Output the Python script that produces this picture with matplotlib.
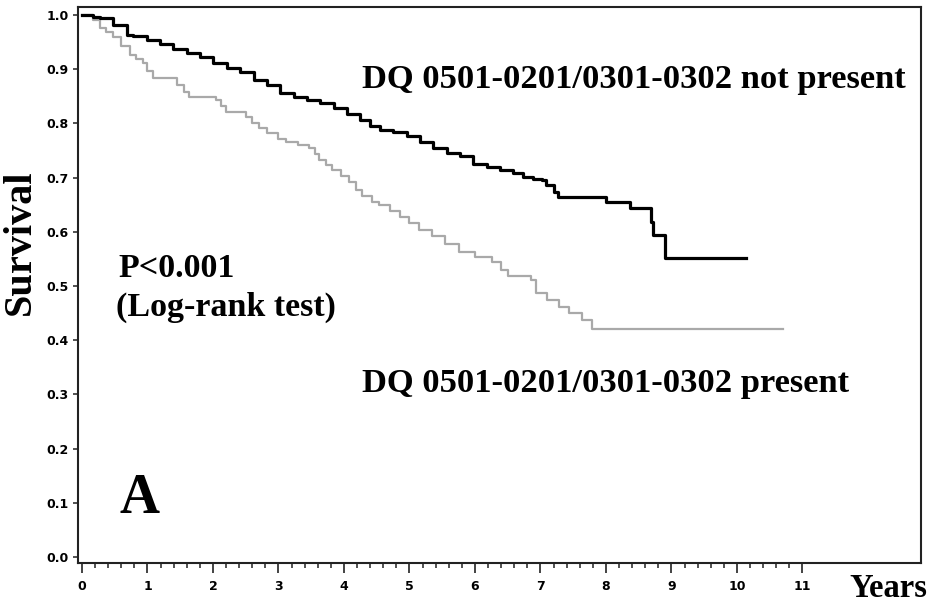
import matplotlib
matplotlib.use("Agg")
import matplotlib.pyplot as plt
from matplotlib.ticker import FixedLocator

# Kaplan-Meier step data
t_absent = [0, 0.17, 0.27, 0.48, 0.68, 0.78, 0.99, 1.19, 1.39, 1.60, 1.80, 2.00,
            2.21, 2.41, 2.62, 2.82, 3.02, 3.23, 3.43, 3.63, 3.84, 4.04, 4.24,
            4.40, 4.55, 4.75, 4.96, 5.16, 5.36, 5.57, 5.77, 5.97, 6.18, 6.38,
            6.58, 6.74, 6.89, 7.02, 7.09, 7.20, 7.27, 8.00, 8.37, 8.69, 8.72,
            8.90, 10.14]
s_absent = [1.000, 0.997, 0.994, 0.982, 0.964, 0.961, 0.954, 0.946, 0.938, 0.930,
            0.922, 0.912, 0.903, 0.894, 0.881, 0.871, 0.857, 0.849, 0.844, 0.838,
            0.828, 0.817, 0.806, 0.795, 0.788, 0.785, 0.776, 0.766, 0.754, 0.745,
            0.739, 0.726, 0.719, 0.714, 0.708, 0.701, 0.697, 0.696, 0.686, 0.674,
            0.665, 0.655, 0.644, 0.618, 0.594, 0.552, 0.552]

t_present = [0, 0.17, 0.27, 0.37, 0.47, 0.60, 0.73, 0.83, 0.93, 1.00, 1.08, 1.45,
             1.55, 1.64, 2.05, 2.12, 2.20, 2.50, 2.60, 2.70, 2.82, 3.00, 3.12,
             3.30, 3.47, 3.55, 3.62, 3.72, 3.82, 3.95, 4.08, 4.18, 4.28, 4.43,
             4.54, 4.70, 4.85, 4.99, 5.15, 5.34, 5.55, 5.75, 6.00, 6.26, 6.40,
             6.51, 6.86, 6.93, 7.10, 7.28, 7.43, 7.63, 7.78, 10.70]
s_present = [1.000, 0.990, 0.976, 0.968, 0.959, 0.943, 0.926, 0.918, 0.911, 0.897,
             0.884, 0.870, 0.858, 0.849, 0.843, 0.832, 0.821, 0.812, 0.800, 0.792,
             0.782, 0.772, 0.766, 0.760, 0.755, 0.744, 0.732, 0.723, 0.714, 0.703,
             0.692, 0.678, 0.666, 0.655, 0.650, 0.638, 0.627, 0.616, 0.604, 0.592,
             0.577, 0.562, 0.553, 0.545, 0.530, 0.518, 0.511, 0.488, 0.475, 0.462,
             0.450, 0.437, 0.420, 0.420]

x_ticks = list(range(0, 12))
y_ticks = [0.0, 0.1, 0.2, 0.3, 0.4, 0.5, 0.6, 0.7, 0.8, 0.9, 1.0]
y_labels = ["0.0", "0.1", "0.2", "0.3", "0.4", "0.5", "0.6", "0.7", "0.8", "0.9", "1.0"]

label_absent = "DQ 0501-0201/0301-0302 not present"
label_present = "DQ 0501-0201/0301-0302 present"

W, H = 933, 605
fig = plt.figure(figsize=(W / 100, H / 100), dpi=100)
ax = fig.add_axes([78 / W, 1 - 563 / H, (921 - 78) / W, (563 - 7) / H])

ax.step(t_present, s_present, where="post", color="#a9a9a9", lw=1.6)
ax.step(t_absent, s_absent, where="post", color="black", lw=2.3)

ax.set_xlim(-0.061, 12.81)
ax.set_ylim(-0.011, 1.0148)

for sp in ax.spines.values():
    sp.set_linewidth(1.5)
    sp.set_color("#222222")

ax.xaxis.set_major_locator(FixedLocator(x_ticks))
ax.xaxis.set_minor_locator(FixedLocator([i * 0.2 for i in range(0, 56) if i % 5 != 0]))
ax.set_xticklabels([str(v) for v in x_ticks])
ax.yaxis.set_major_locator(FixedLocator(y_ticks))
ax.set_yticklabels(y_labels)

ax.tick_params(axis="x", which="major", direction="out", length=7.2, width=1.2,
               pad=5, labelsize=9, color="#222222")
ax.tick_params(axis="x", which="minor", direction="out", length=3.6, width=1.1,
               color="#222222")
ax.tick_params(axis="y", which="major", direction="out", length=3.6, width=1.1,
               pad=3, labelsize=9, color="#222222")
for lab in ax.get_xticklabels() + ax.get_yticklabels():
    lab.set_fontweight("bold")
    lab.set_family("DejaVu Sans")

serif = "Liberation Serif"

def ftext(x, y, s, size, **kw):
    fig.text(x / W, 1 - y / H, s, fontsize=size, family=serif, fontweight="bold",
             va="baseline", ha="left", **kw)

ftext(362, 88, label_absent, 24.8)
ftext(362, 392, label_present, 24.8)
ftext(118, 277, "P<0.001", 24.5)
ftext(116, 316, "(Log-rank test)", 24.5)
ftext(120, 513, "A", 40)
ftext(849, 597, "Years", 23.5)
fig.text(20 / W, 1 - 242 / H, "Survival", fontsize=29, family=serif,
         fontweight="bold", rotation=90, va="center", ha="center")

fig.savefig("out.png", dpi=100)
